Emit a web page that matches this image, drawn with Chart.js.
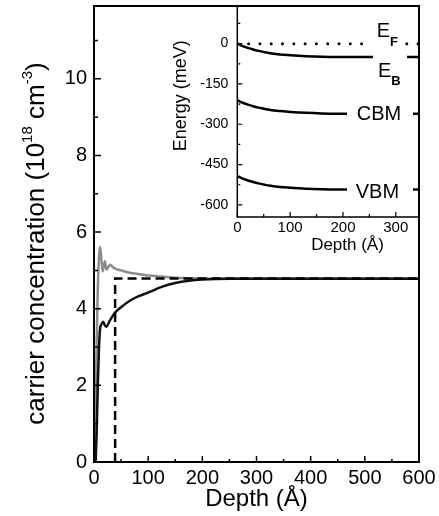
<!DOCTYPE html>
<html lang="en">
<head>
<meta charset="UTF-8" />
<title>Carrier concentration vs depth</title>
<script src="https://cdn.jsdelivr.net/npm/chart.js"></script>
<style>
  body { margin: 0; background: #fff; }
  #wrap { position: relative; width: 439px; height: 516px; }
  #mainChart { position: absolute; left: 0; top: 0; }
  #insetChart { position: absolute; left: 150px; top: 0; }
</style>
</head>
<body>
<div id="wrap">
  <canvas id="mainChart" width="439" height="516"></canvas>
  <canvas id="insetChart" width="289" height="260"></canvas>
</div>
<script>
// main panel: carrier concentration (1e18 cm^-3) vs depth (Å)
const blackDepth = [3, 5, 7, 9, 11, 14, 17, 20, 23, 28, 34, 39, 50, 60, 75, 100, 125, 150, 175, 200, 250, 300, 400, 500, 600];
const blackConc = [0, 0.8, 2.0, 2.9, 3.45, 3.6, 3.66, 3.57, 3.53, 3.66, 3.8, 3.9, 4.04, 4.15, 4.28, 4.42, 4.57, 4.67, 4.73, 4.76, 4.78, 4.78, 4.78, 4.78, 4.78];
const grayDepth = [1, 3, 5, 7, 9, 11, 13, 16, 20, 23, 26, 30, 35, 40, 50, 60, 75, 100, 125, 150, 200, 250, 300, 400, 500, 600];
const grayConc = [0, 1.5, 3.2, 4.5, 5.3, 5.62, 5.4, 4.97, 5.24, 5.02, 5.08, 5.15, 5.08, 5.04, 5.0, 4.96, 4.92, 4.87, 4.84, 4.81, 4.79, 4.78, 4.78, 4.78, 4.78, 4.78];
const stepDepth = [39, 39, 600];
const stepConc = [0, 4.79, 4.79];

const mainDepthTicks = [0, 100, 200, 300, 400, 500, 600];
const mainDepthMinor = [50, 150, 250, 350, 450, 550];
const mainConcTicks = [0, 2, 4, 6, 8, 10];
const mainConcMinor = [1, 3, 5, 7, 9, 11];

// inset: band energies (meV) vs depth (Å)
const bandDepth = [0, 10, 20, 30, 40, 50, 60, 80, 100, 130, 160, 200, 260, 343];
const ebEnergy = [0, -9, -16, -22, -27, -31, -35, -40, -43, -46.5, -48.5, -49.5, -50, -50];
const cbmEnergy = [-211, -220, -227, -233, -238, -242, -246, -251, -254, -257.5, -259.5, -260.5, -261, -261];
const vbmEnergy = [-493, -502, -509, -515, -520, -524, -528, -533, -536, -539.5, -541.5, -542.5, -543, -543];
const efDepth = [0, 343];
const efEnergy = [0, 0];

const insetDepthTicks = [0, 100, 200, 300];
const insetDepthMinor = [50, 150, 250];
const insetEnergyTicks = [0, -150, -300, -450, -600];
const insetEnergyMinor = [75, -75, -225, -375, -525];

const FAMILY = '"Liberation Sans", Arial, Helvetica, sans-serif';
Chart.defaults.font.family = FAMILY;
Chart.defaults.color = '#000';

const pts = (xs, ys) => xs.map((x, i) => ({ x: x, y: ys[i] }));

// fixed scale size, no extra room for edge labels
const fixSize = (w, h) => s => {
  if (w != null) s.width = w;
  if (h != null) s.height = h;
  s.paddingTop = 0; s.paddingBottom = 0; s.paddingLeft = 0; s.paddingRight = 0;
};

// axis lines plus inward tick marks
const axisFrame = {
  id: 'axisFrame',
  afterDatasetsDraw(chart, args, o) {
    const { ctx, chartArea: a, scales: { x, y } } = chart;
    ctx.save();
    ctx.strokeStyle = '#000';
    ctx.lineWidth = o.lineWidth;
    ctx.beginPath();
    if (o.fullBox) {
      ctx.rect(a.left, a.top, a.right - a.left, a.bottom - a.top);
    } else {
      ctx.moveTo(a.left, a.top);
      ctx.lineTo(a.left, a.bottom);
      ctx.lineTo(a.right, a.bottom);
    }
    ctx.stroke();
    ctx.lineWidth = o.tickWidth;
    ctx.beginPath();
    const xt = (vals, len) => vals.forEach(v => {
      const px = x.getPixelForValue(v);
      ctx.moveTo(px, a.bottom); ctx.lineTo(px, a.bottom - len);
    });
    const yt = (vals, len) => vals.forEach(v => {
      const py = y.getPixelForValue(v);
      ctx.moveTo(a.left, py); ctx.lineTo(a.left + len, py);
    });
    xt(o.xMajor, o.xMajorLen); xt(o.xMinor, o.xMinorLen);
    yt(o.yMajor, o.yMajorLen); yt(o.yMinor, o.yMinorLen);
    ctx.stroke();
    ctx.restore();
  }
};

// text with super/subscripts, optional white box behind it
const richText = {
  id: 'richText',
  afterDatasetsDraw(chart, args, o) {
    const ctx = chart.ctx;
    o.items.forEach(it => {
      ctx.save();
      if (it.box) {
        ctx.fillStyle = '#fff';
        ctx.fillRect(it.box[0], it.box[1], it.box[2], it.box[3]);
      }
      ctx.translate(it.x, it.y);
      if (it.rotate) ctx.rotate(it.rotate * Math.PI / 180);
      const segs = it.parts.map(p => {
        const size = (p.sup || p.sub) ? it.small : it.size;
        const font = (p.bold ? 'bold ' : '') + size + 'px ' + FAMILY;
        ctx.font = font;
        return { p: p, font: font, w: ctx.measureText(p.t).width };
      });
      const total = segs.reduce((s, g) => s + g.w, 0);
      let cx = it.align === 'center' ? -total / 2 : 0;
      ctx.fillStyle = '#000';
      ctx.textBaseline = 'alphabetic';
      segs.forEach(g => {
        ctx.font = g.font;
        const dy = g.p.sup ? -it.supShift : (g.p.sub ? it.subShift : 0);
        ctx.fillText(g.p.t, cx, dy);
        cx += g.w;
      });
      ctx.restore();
    });
  }
};

new Chart(document.getElementById('mainChart').getContext('2d'), {
  type: 'line',
  data: {
    datasets: [
      { data: pts(stepDepth, stepConc), borderColor: '#000', borderWidth: 2.5, borderDash: [9, 5], tension: 0 },
      { data: pts(blackDepth, blackConc), borderColor: '#111', borderWidth: 2.5, cubicInterpolationMode: 'monotone' },
      { data: pts(grayDepth, grayConc), borderColor: '#8c8c8c', borderWidth: 2.5, cubicInterpolationMode: 'monotone' }
    ]
  },
  options: {
    responsive: false,
    animation: false,
    layout: { padding: { top: 6, right: 20, left: 0, bottom: 0 } },
    elements: { point: { radius: 0 } },
    plugins: {
      legend: { display: false },
      tooltip: { enabled: false },
      axisFrame: {
        fullBox: true, lineWidth: 2, tickWidth: 1.5,
        xMajor: mainDepthTicks, xMinor: mainDepthMinor, xMajorLen: 6, xMinorLen: 3,
        yMajor: mainConcTicks, yMinor: mainConcMinor, yMajorLen: 7, yMinorLen: 4
      },
      richText: {
        items: [{
          x: 44, y: 243.5, rotate: -90, size: 26, small: 15, supShift: 12, align: 'center',
          parts: [{ t: 'carrier concentration (10' }, { t: '18', sup: true }, { t: ' cm' }, { t: '-3', sup: true }, { t: ')' }]
        }]
      }
    },
    scales: {
      x: {
        type: 'linear', min: 0, max: 600,
        grid: { display: false, drawTicks: false }, border: { display: false },
        afterBuildTicks: s => { s.ticks = mainDepthTicks.map(v => ({ value: v })); },
        afterFit: fixSize(null, 54),
        ticks: { padding: 4, autoSkip: false, maxRotation: 0, font: { size: 20 } },
        title: { display: true, text: 'Depth (Å)', font: { size: 24 }, padding: { top: 0, bottom: 2 } }
      },
      y: {
        type: 'linear', min: 0, max: 11.9,
        grid: { display: false, drawTicks: false }, border: { display: false },
        afterBuildTicks: s => { s.ticks = mainConcTicks.map(v => ({ value: v })); },
        afterFit: fixSize(94, null),
        ticks: { padding: 7, autoSkip: false, font: { size: 20 } }
      }
    }
  },
  plugins: [axisFrame, richText]
});

new Chart(document.getElementById('insetChart').getContext('2d'), {
  type: 'line',
  data: {
    datasets: [
      { data: pts(efDepth, efEnergy), borderColor: '#000', borderWidth: 3, borderDash: [0, 11.3], borderCapStyle: 'round' },
      { data: pts(bandDepth, ebEnergy), borderColor: '#000', borderWidth: 2.5, cubicInterpolationMode: 'monotone' },
      { data: pts(bandDepth, cbmEnergy), borderColor: '#000', borderWidth: 2.5, cubicInterpolationMode: 'monotone' },
      { data: pts(bandDepth, vbmEnergy), borderColor: '#000', borderWidth: 2.5, cubicInterpolationMode: 'monotone' }
    ]
  },
  options: {
    responsive: false,
    animation: false,
    layout: { padding: { top: 6, right: 20.5, left: 0, bottom: 0 } },
    elements: { point: { radius: 0 } },
    plugins: {
      legend: { display: false },
      tooltip: { enabled: false },
      axisFrame: {
        fullBox: false, lineWidth: 1.5, tickWidth: 1.2,
        xMajor: insetDepthTicks, xMinor: insetDepthMinor, xMajorLen: 5, xMinorLen: 3,
        yMajor: insetEnergyTicks, yMinor: insetEnergyMinor, yMajorLen: 5, yMinorLen: 3
      },
      richText: {
        items: [
          { x: 36, y: 95.7, rotate: -90, size: 18, small: 12, align: 'center', parts: [{ t: 'Energy (meV)' }] },
          { x: 197.5, y: 250, size: 17, small: 12, align: 'center', parts: [{ t: 'Depth (Å)' }] },
          { x: 226.7, y: 37, size: 20, small: 13, subShift: 9, box: [213, 38, 41, 12], parts: [{ t: 'E' }, { t: 'F', sub: true, bold: true }] },
          { x: 228, y: 77, size: 20, small: 13, subShift: 8, box: [223, 52, 34, 12], parts: [{ t: 'E' }, { t: 'B', sub: true, bold: true }] },
          { x: 206.7, y: 120, size: 20, small: 13, box: [197, 106, 66, 14], parts: [{ t: 'CBM' }] },
          { x: 205.7, y: 197.5, size: 20, small: 13, box: [197, 183, 66, 14], parts: [{ t: 'VBM' }] }
        ]
      }
    },
    scales: {
      x: {
        type: 'linear', min: 0, max: 343,
        grid: { display: false, drawTicks: false }, border: { display: false },
        afterBuildTicks: s => { s.ticks = insetDepthTicks.map(v => ({ value: v })); },
        afterFit: fixSize(null, 43),
        ticks: { padding: 2, autoSkip: false, maxRotation: 0, font: { size: 15 } }
      },
      y: {
        type: 'linear', min: -645, max: 140,
        grid: { display: false, drawTicks: false }, border: { display: false },
        afterBuildTicks: s => { s.ticks = insetEnergyTicks.map(v => ({ value: v })); },
        afterFit: fixSize(87.3, null),
        ticks: { padding: 9, autoSkip: false, font: { size: 14 } }
      }
    }
  },
  plugins: [axisFrame, richText]
});
</script>
</body>
</html>
